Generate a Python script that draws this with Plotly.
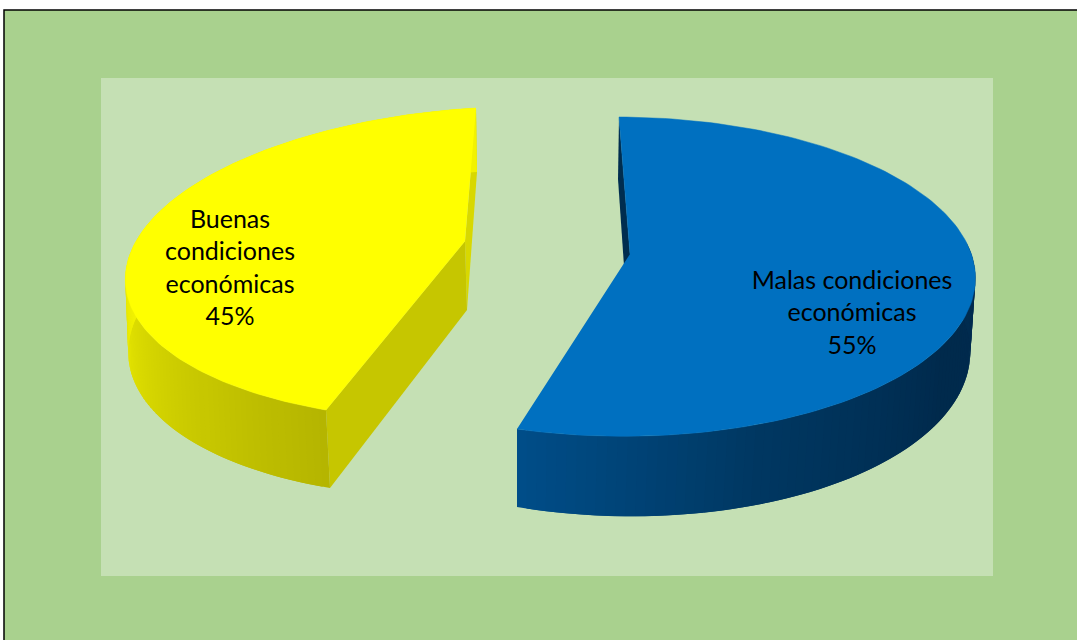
import numpy as np
import plotly.graph_objects as go

categories = ["Malas condiciones económicas", "Buenas condiciones económicas"]
label_lines = ["Malas condiciones<br>económicas", "Buenas<br>condiciones<br>económicas"]
values = [55, 45]
start_angle = -2.0  # clockwise from the back of the pie

# Where the unit-circle camera view lands in page pixels: centre, arc start, arc end, and one arc point
camera = [
    dict(top=[(630, 254), (619, 117), (517, 429), (972, 256)], ref=90,
         base=[(628, 324), (618, 179), (517, 507), (967, 329)]),
    dict(top=[(465, 241), (326, 410), (476, 108), (133, 247)], ref=270,
         base=[(467, 310), (330, 488), (477, 172), (136, 318)]),
]
top_colors = ["#0070C0", "#FFFF00"]
rim_stops = [
    [(90, (0, 44, 80)), (120, (0, 42, 76)), (160, (0, 56, 98)), (196, (0, 79, 139))],
    [(196, (181, 181, 0)), (230, (208, 208, 0)), (270, (242, 242, 0)), (358, (242, 242, 0))],
]
back_colors = ["#002D4F", "#D8D800"]
cut_colors = [None, "#C6C600"]
PAPER = "#A9D18E"
PLOT = "#C5E0B4"


def unit(theta):
    t = np.radians(theta)
    return np.array([np.sin(t), np.cos(t)])


def homography(src, dst):
    rows = []
    for (u, v), (x, y) in zip(src, dst):
        rows.append([u, v, 1, 0, 0, 0, -x * u, -x * v, -x])
        rows.append([0, 0, 0, u, v, 1, -y * u, -y * v, -y])
    return np.linalg.svd(np.array(rows, float))[2][-1].reshape(3, 3)


def project(H, pts):
    pts = np.atleast_2d(pts)
    p = H @ np.c_[pts, np.ones(len(pts))].T
    return p[0] / p[2], p[1] / p[2]


def rim_color(stops, theta):
    a = [s[0] for s in stops]
    return "rgb(%d,%d,%d)" % tuple(np.interp(theta, a, [s[1][i] for s in stops]) for i in range(3))


def poly(xs, ys, color, edge=0.0):
    return go.Scatter(x=list(xs), y=list(ys), mode="lines", fill="toself", fillcolor=color,
                      line=dict(color=color, width=edge), hoverinfo="skip", showlegend=False)


fig = go.Figure()
angle = start_angle
total = sum(values)
for i, val in enumerate(values):
    sweep = 360 * val / total
    a0, a1 = angle, angle + sweep
    angle = a1
    cam = camera[i]
    src = [(0, 0), unit(a0), unit(a1), unit(cam["ref"])]
    Ht = homography(src, cam["top"])
    Hb = homography(src, cam["base"])
    th = np.linspace(a0, a1, 140)
    ring = np.array([unit(t) for t in th])
    tx, ty = project(Ht, ring)
    bx, by = project(Hb, ring)
    cx, cy = project(Ht, [(0, 0)])
    dx, dy = project(Hb, [(0, 0)])
    if i == 0:
        fig.add_trace(poly([tx[0], bx[0], dx[0], cx[0]], [ty[0], by[0], dy[0], cy[0]], back_colors[i]))
    else:
        fig.add_trace(poly([tx[-1], bx[-1], dx[0], cx[0]], [ty[-1], by[-1], dy[0], cy[0]], back_colors[i]))
        fig.add_trace(poly([tx[0], bx[0], dx[0], cx[0]], [ty[0], by[0], dy[0], cy[0]], cut_colors[i]))
    # Painted so every strip runs underneath the next, which hides antialiased seams
    order = range(len(th) - 2) if i == 1 else range(len(th) - 3, -1, -1)
    for k in order:
        mid = (th[k] + th[k + 1]) / 2
        low = rim_stops[i][0][0]
        if i == 0 and mid < low - 5:
            continue
        fig.add_trace(poly([tx[k], tx[k + 2], bx[k + 2], bx[k]], [ty[k], ty[k + 2], by[k + 2], by[k]],
                           rim_color(rim_stops[i], mid)))
    fig.add_trace(poly(np.r_[cx, tx], np.r_[cy, ty], top_colors[i], 0.5))

label_x = [852, 230]
label_y = [315, 270]
fig.add_trace(go.Scatter(
    x=label_x, y=label_y, mode="text",
    text=[f"{l}<br>{v}%" for l, v in zip(label_lines, values)],
    textposition="middle center",
    textfont=dict(family="Lato, Carlito, sans-serif", size=25, color="#000000"),
    hoverinfo="skip", showlegend=False))

fig.update_layout(
    width=1077, height=640, margin=dict(l=0, r=0, t=0, b=0),
    paper_bgcolor="#FFFFFF", plot_bgcolor="#FFFFFF", showlegend=False,
    xaxis=dict(range=[0, 1077], visible=False, fixedrange=True),
    yaxis=dict(range=[640, 0], visible=False, fixedrange=True),
    shapes=[
        dict(type="rect", layer="below", x0=4, y0=10, x1=1100, y1=660, fillcolor=PAPER,
             line=dict(color="#000000", width=1.5)),
        dict(type="rect", layer="below", x0=101, y0=78, x1=993, y1=576, fillcolor=PLOT, line=dict(width=0)),
    ],
)
fig.write_html("out.html", config=dict(displayModeBar=False), post_script="document.body.style.margin='0';")
